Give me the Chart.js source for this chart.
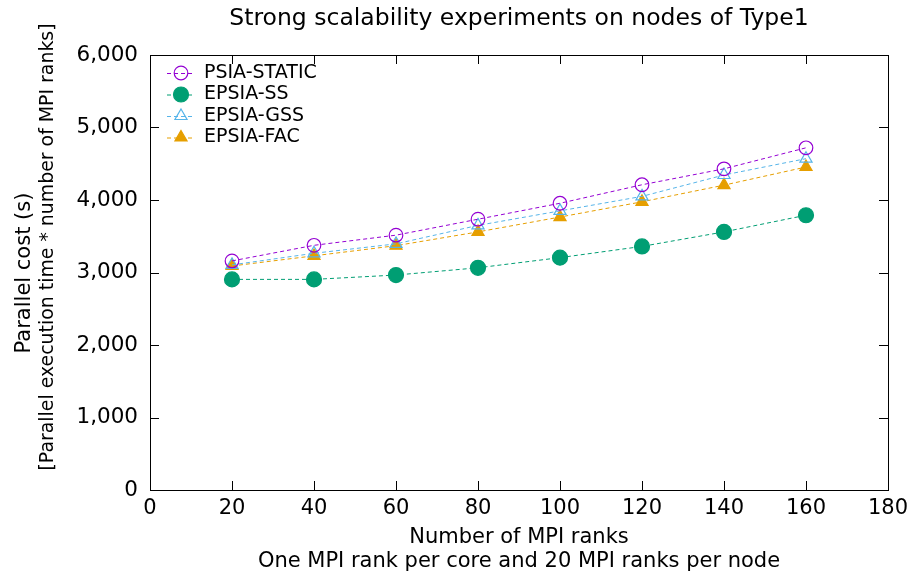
<!DOCTYPE html>
<html>
<head>
<meta charset="utf-8">
<script src="https://cdn.jsdelivr.net/npm/chart.js@4"></script>
<style>
  html, body { margin: 0; padding: 0; background: #fff; }
  #wrap { width: 918px; height: 581px; }
</style>
</head>
<body>
<div id="wrap"><canvas id="cost-chart"></canvas></div>
<script>
// data
var ranks = [20, 40, 60, 80, 100, 120, 140, 160];
var psiaStatic = [3160, 3375, 3515, 3735, 3955, 4210, 4430, 4720];
var epsiaSS    = [2905, 2905, 2965, 3065, 3205, 3360, 3560, 3790];
var epsiaGSS   = [3105, 3265, 3395, 3650, 3850, 4050, 4345, 4570];
var epsiaFAC   = [3090, 3230, 3370, 3560, 3765, 3975, 4205, 4455];
var chartTitle = 'Strong scalability experiments on nodes of Type1';
var yTitle = ['Parallel cost (s)', '[Parallel execution time * number of MPI ranks]'];
var xTitle = ['Number of MPI ranks', 'One MPI rank per core and 20 MPI ranks per node'];

function pts(vals) {
  return ranks.map(function (r, i) { return { x: r, y: vals[i] }; });
}

function series(label, vals, color, style, filled, radius) {
  return {
    label: label,
    data: pts(vals),
    borderColor: color,
    backgroundColor: color,
    borderWidth: 1,
    borderDash: [4, 3],
    pointStyle: style,
    pointRadius: radius,
    pointBorderWidth: 1.2,
    pointBorderColor: color,
    pointBackgroundColor: filled ? color : 'rgba(0,0,0,0)',
    fill: false,
    tension: 0
  };
}

function drawMarker(ctx, style, r, x, y) {
  if (style === 'circle') {
    ctx.arc(x, y, r, 0, Math.PI * 2);
  } else {
    ctx.moveTo(x, y - r);
    ctx.lineTo(x + r * 0.866, y + r * 0.5);
    ctx.lineTo(x - r * 0.866, y + r * 0.5);
    ctx.closePath();
  }
}

// gnuplot-like frame: box + inward ticks on all four sides, legend inside, titles
var framePlugin = {
  id: 'frame',
  afterDatasetsDraw: function (chart) {
    var ctx = chart.ctx, a = chart.chartArea;
    var xs = chart.scales.x, ys = chart.scales.y;
    ctx.save();
    ctx.strokeStyle = '#000';
    ctx.lineWidth = 1;
    ctx.beginPath();
    xs.ticks.forEach(function (t) {
      var px = Math.round(xs.getPixelForValue(t.value)) + 0.5;
      ctx.moveTo(px, a.bottom); ctx.lineTo(px, a.bottom - 9);
      ctx.moveTo(px, a.top); ctx.lineTo(px, a.top + 9);
    });
    ys.ticks.forEach(function (t) {
      var py = Math.round(ys.getPixelForValue(t.value)) + 0.5;
      ctx.moveTo(a.left, py); ctx.lineTo(a.left + 9, py);
      ctx.moveTo(a.right, py); ctx.lineTo(a.right - 9, py);
    });
    ctx.stroke();
    ctx.strokeRect(Math.round(a.left) + 0.5, Math.round(a.top) + 0.5,
                   Math.round(a.right - a.left), Math.round(a.bottom - a.top));

    // legend
    ctx.font = '19px "DejaVu Sans"';
    ctx.textBaseline = 'middle';
    ctx.textAlign = 'left';
    chart.data.datasets.forEach(function (ds, i) {
      var y = a.top + 18 + i * 21.5;
      var x0 = a.left + 17, x1 = a.left + 45;
      ctx.save();
      ctx.strokeStyle = ds.borderColor;
      ctx.lineWidth = 1;
      ctx.setLineDash([4, 3]);
      ctx.beginPath();
      ctx.moveTo(x0, y + 0.5); ctx.lineTo(x1, y + 0.5);
      ctx.stroke();
      ctx.restore();
      ctx.fillStyle = ds.pointBackgroundColor;
      ctx.strokeStyle = ds.pointBorderColor;
      ctx.lineWidth = ds.pointBorderWidth;
      ctx.beginPath();
      drawMarker(ctx, ds.pointStyle, ds.pointRadius, (x0 + x1) / 2, y);
      ctx.fill();
      ctx.stroke();
      ctx.fillStyle = '#000';
      ctx.fillText(ds.label, a.left + 54, y);
    });

    ctx.fillStyle = '#000';
    ctx.textAlign = 'center';
    var cx = (a.left + a.right) / 2;

    // chart title, centred over the plot box
    ctx.font = '23.5px "DejaVu Sans"';
    ctx.fillText(chartTitle, cx, 19);

    // x-axis label, two lines
    ctx.font = '21px "DejaVu Sans"';
    ctx.fillText(xTitle[0], cx, 538);
    ctx.fillText(xTitle[1], cx, 562);

    // rotated y-axis label, two lines
    ctx.save();
    ctx.font = '21px "DejaVu Sans"';
    ctx.translate(25, 273);
    ctx.rotate(-Math.PI / 2);
    ctx.fillText(yTitle[0], 0, 0);
    ctx.restore();
    ctx.save();
    ctx.font = '18.9px "DejaVu Sans"';
    ctx.translate(48, 247);
    ctx.rotate(-Math.PI / 2);
    ctx.fillText(yTitle[1], 0, 0);
    ctx.restore();
    ctx.restore();
  }
};

var tickFont = { family: 'DejaVu Sans', size: 21 };

new Chart(document.getElementById('cost-chart'), {
  type: 'line',
  data: {
    datasets: [
      series('PSIA-STATIC', psiaStatic, '#9400D3', 'circle', false, 6.8),
      series('EPSIA-SS', epsiaSS, '#009E73', 'circle', true, 7.5),
      series('EPSIA-GSS', epsiaGSS, '#56B4E9', 'triangle', false, 7),
      series('EPSIA-FAC', epsiaFAC, '#E69F00', 'triangle', true, 7)
    ]
  },
  options: {
    responsive: true,
    maintainAspectRatio: false,
    animation: false,
    layout: { padding: { left: 0, right: 30, top: 55, bottom: 0 } },
    plugins: {
      legend: { display: false },
      tooltip: { enabled: false },
      title: { display: false }
    },
    scales: {
      x: {
        type: 'linear',
        min: 0,
        max: 180,
        ticks: { stepSize: 20, color: '#000', font: tickFont, padding: 6, maxRotation: 0 },
        grid: { display: false, drawTicks: false },
        border: { display: false },
        afterFit: function (s) { s.height = 91; }
      },
      y: {
        min: 0,
        max: 6000,
        ticks: {
          stepSize: 1000,
          color: '#000',
          font: { family: 'DejaVu Sans', size: 21.5 },
          padding: 12,
          callback: function (v) { return v.toLocaleString('en-US'); }
        },
        grid: { display: false, drawTicks: false },
        border: { display: false },
        afterFit: function (s) { s.width = 150; }
      }
    }
  },
  plugins: [framePlugin]
});
</script>
</body>
</html>
